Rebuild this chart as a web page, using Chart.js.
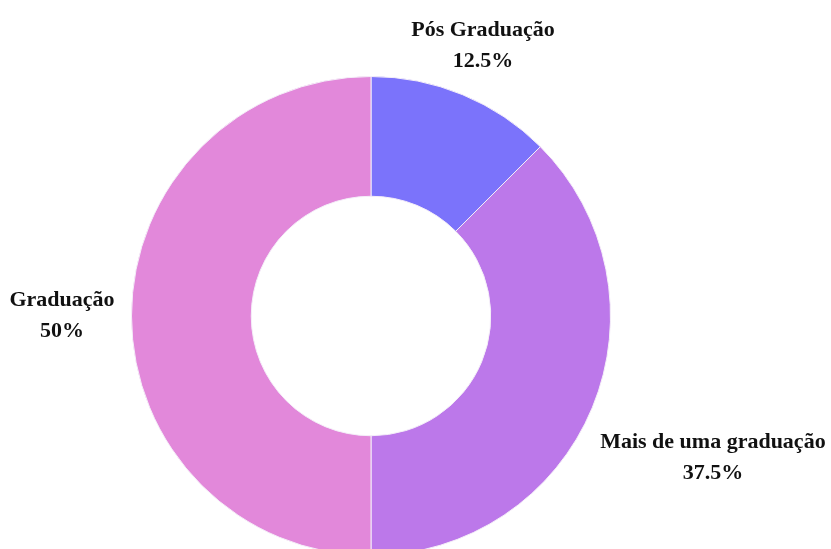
<!DOCTYPE html>
<html>
<head>
<meta charset="utf-8">
<script src="https://cdn.jsdelivr.net/npm/chart.js@4"></script>
<style>
  html, body { margin: 0; padding: 0; background: #fff; overflow: hidden; }
  #wrap { width: 831px; height: 549px; overflow: hidden; }
</style>
</head>
<body>
<div id="wrap">
  <canvas id="graficoRosca" width="831" height="632"></canvas>
</div>
<script>
// dados
const categorias = ["Pós Graduação", "Mais de uma graduação", "Graduação"];
const valores = [12.5, 37.5, 50];
const rotulos = ["12.5%", "37.5%", "50%"];
const cores = ["#7b73fb", "#bc78ea", "#e288da"];
// distancia do rotulo ate a borda da rosca
const distRotulo = [24, 60, 17];

// rotulos fora da rosca
const rotulosFora = {
  id: "rotulosFora",
  afterDatasetsDraw(chart) {
    const ctx = chart.ctx;
    const meta = chart.getDatasetMeta(0);
    ctx.save();
    ctx.font = "bold 22px 'Liberation Serif', 'Times New Roman', serif";
    ctx.fillStyle = "#111";
    ctx.textAlign = "center";
    ctx.textBaseline = "middle";
    const altLinha = 31;
    meta.data.forEach((arc, i) => {
      const p = arc.getProps(["x", "y", "startAngle", "endAngle", "outerRadius"], true);
      const ang = (p.startAngle + p.endAngle) / 2;
      const cos = Math.cos(ang), sin = Math.sin(ang);
      const linhas = [categorias[i], rotulos[i]];
      const w = Math.max(...linhas.map(t => ctx.measureText(t).width));
      const h = altLinha * 2 - 8;
      const r = p.outerRadius + distRotulo[i];
      const ax = p.x + cos * r;
      const ay = p.y + sin * r;
      const dx = Math.abs(cos) > 1e-6 ? (w / 2) / Math.abs(cos) : Infinity;
      const dy = Math.abs(sin) > 1e-6 ? (h / 2) / Math.abs(sin) : Infinity;
      const d = Math.min(dx, dy);
      const cx = ax + cos * d;
      const cy = ay + sin * d;
      ctx.fillText(linhas[0], cx, cy - altLinha / 2);
      ctx.fillText(linhas[1], cx, cy + altLinha / 2);
    });
    ctx.restore();
  }
};

const ctx = document.getElementById("graficoRosca").getContext("2d");

new Chart(ctx, {
  type: "doughnut",
  data: {
    labels: categorias,
    datasets: [{
      data: valores,
      backgroundColor: cores,
      borderColor: "#f4eef8",
      borderWidth: 1
    }]
  },
  options: {
    responsive: false,
    animation: false,
    cutout: "50%",
    layout: {
      padding: { left: 131, right: 220, top: 76, bottom: 76 }
    },
    plugins: {
      legend: { display: false },
      tooltip: { enabled: false }
    }
  },
  plugins: [rotulosFora]
});
</script>
</body>
</html>
